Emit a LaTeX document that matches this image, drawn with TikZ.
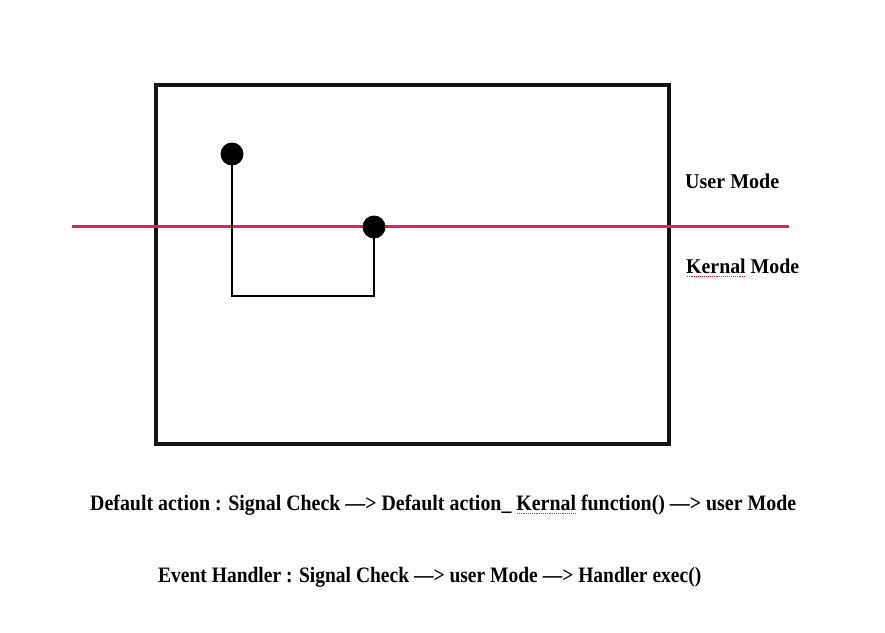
\documentclass[tikz,border=0pt]{standalone}
\usepackage{fontspec}
\setmainfont{Liberation Serif}
\usepackage{graphicx}
\definecolor{redline}{RGB}{230,36,82}
\definecolor{spell}{RGB}{225,40,60}
\newcommand\spellmark[1]{\setbox0\hbox{#1}\rlap{\color{spell}\raisebox{-4pt}{\hbox to\wd0{\xleaders\hbox to 2pt{\hss\rule{1pt}{1pt}\hss}\hfill}}}\box0\relax}
\tikzset{
  frame/.style={draw=black!92, line width=3.3pt, minimum width=513pt, minimum height=359pt, inner sep=0pt},
  dot/.style={circle, fill=black, minimum size=23pt, inner sep=0pt},
  wire/.style={draw=black, line width=2.5pt},
  divider/.style={draw=redline, line width=3pt},
  label/.style={anchor=base west, inner sep=0pt, font=\fontsize{21}{25}\selectfont\bfseries},
  caption/.style={anchor=base west, inner sep=0pt, font=\fontsize{22}{26}\selectfont\bfseries}
}
\begin{document}
\begin{tikzpicture}[x=1pt,y=-1pt]
\useasboundingbox (0,0) rectangle (885,632);
\fill[white] (0,0) rectangle (885,632);
\node[frame] (box) at (412.5,264.5) {};
\coordinate (rl) at (72,226);
\coordinate (rr) at (789,226);
\draw[divider] (rl) -- (rr);
\node[dot] (d1) at (232,154) {};
\node[dot] (d2) at (374,227) {};
\coordinate (bl) at (232,296);
\draw[wire] (d1.center) -- (bl) -| (d2.center);
\node[label] (um) at (685,188) {\resizebox{94pt}{\height}{User Mode}};
\node[label] (km) at (686,273) {\resizebox{113pt}{\height}{\spellmark{Kernal} Mode}};
\node[caption] (l1) at (90,510) {\resizebox{706pt}{\height}{Default action : Signal Check —> Default action\_ \spellmark{Kernal} function() —> user Mode}};
\node[caption] (l2) at (158,582) {\resizebox{543pt}{\height}{Event Handler : Signal Check —> user Mode —> Handler exec()}};
\end{tikzpicture}
\end{document}
